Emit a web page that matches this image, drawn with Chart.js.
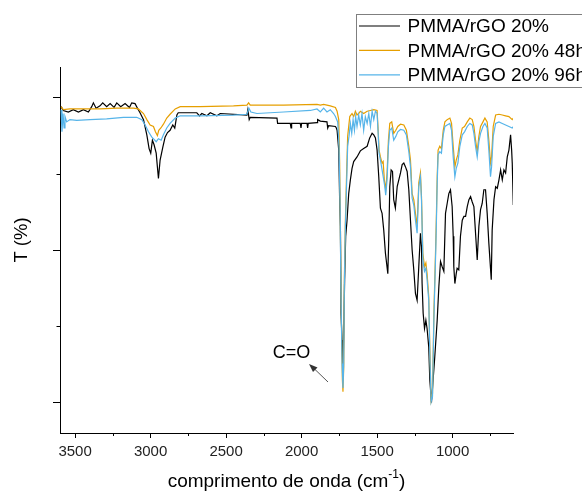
<!DOCTYPE html>
<html>
<head>
<meta charset="utf-8">
<script src="https://cdn.jsdelivr.net/npm/chart.js@4/dist/chart.umd.min.js"></script>
<style>
  body { margin: 0; background: #fff; }
  #caixa { width: 582px; height: 493px; }
</style>
</head>
<body>
<div id="caixa"><canvas id="grafica"></canvas></div>
<script>
// numero de onda (cm-1) e transmitancia
const wnPuro = [3593,3578,3545,3512,3478,3445,3412,3390,3379,3361,3335,3317,3291,3268,3242,3224,3198,3169,3140,3125,3103,3087,3070,3047,3025,3010,2999,2988,2977,2963,2955,2948,2937,2919,2904,2888,2871,2853,2840,2826,2817,2694,2676,2661,2627,2605,2561,2539,2362,2356,2347,2340,2163,2159,2075,2070,2066,2009,2004,2000,1964,1960,1956,1898,1894,1876,1832,1827,1821,1776,1770,1765,1754,1748,1743,1739,1732,1726,1721,1715,1708,1699,1688,1677,1666,1655,1633,1611,1589,1566,1549,1533,1522,1511,1500,1489,1478,1467,1456,1445,1429,1423,1416,1407,1398,1390,1379,1367,1345,1334,1323,1312,1301,1290,1279,1268,1257,1246,1235,1224,1213,1206,1202,1195,1186,1177,1169,1158,1151,1140,1129,1118,1102,1091,1080,1069,1058,1047,1036,1025,1014,1003,996,992,985,976,970,959,948,936,925,914,903,892,881,870,859,848,837,826,815,804,793,782,771,760,744,738,726,715,704,693,682,671,660,649,638,627,616,609,605,598];
const tPuro = [58.8,58.3,58.1,58.4,58.1,58.4,58.1,58.8,59.3,58.6,58.9,59.3,58.8,59.2,58.7,59.3,58.8,59.2,58.7,59.3,59.2,58.6,58.0,57.1,55.1,53.3,52.7,54.4,53.8,52.7,50.9,49.4,51.8,53.5,54.8,55.4,55.7,56.4,56.0,57.7,58.0,58.0,57.6,57.9,57.6,58.0,57.6,57.9,57.7,58.4,57.1,57.4,57.3,56.6,56.6,56.0,56.6,56.6,56.0,56.6,56.6,56.0,56.6,56.7,57.1,56.9,56.8,56.0,56.3,56.2,56.0,55.7,53.1,46.6,43.1,31.7,28.2,23.5,29.1,36.1,41.8,43.9,47.4,49.2,50.7,51.6,52.2,53.0,53.3,53.6,54.7,55.3,55.1,54.7,53.1,49.6,45.5,44.8,42.6,39.6,36.9,41.3,48.3,50.5,50.3,46.6,45.5,48.3,50.1,51.2,51.4,50.9,50.3,47.9,43.9,40.0,37.4,34.3,33.4,37.8,42.2,40.4,35.6,31.7,29.7,30.8,29.7,27.3,23.0,20.0,23.0,26.0,30.8,35.2,38.5,37.8,37.2,44.8,46.1,47.4,47.9,45.7,41.8,37.8,35.6,36.9,37.6,37.4,41.8,43.9,44.4,44.4,45.7,46.6,47.0,46.3,45.7,42.2,38.7,43.1,45.3,46.1,47.9,47.9,44.8,40.9,36.1,42.6,46.6,48.3,48.1,49.2,50.5,49.2,50.5,50.1,52.2,53.1,55.1,53.1,51.4,45.9];

const wn48h = [3593,3578,3534,3445,3335,3224,3114,3081,3047,3025,3003,2981,2968,2955,2946,2932,2915,2893,2871,2837,2804,2672,2451,2362,2351,2340,2119,1898,1876,1854,1810,1776,1765,1754,1748,1743,1737,1730,1726,1721,1717,1710,1703,1695,1681,1666,1655,1644,1633,1622,1611,1589,1566,1544,1522,1500,1493,1487,1478,1467,1460,1452,1443,1434,1425,1416,1403,1390,1376,1363,1345,1323,1306,1290,1279,1268,1257,1246,1235,1224,1213,1206,1197,1186,1177,1169,1158,1151,1142,1133,1124,1118,1111,1107,1102,1096,1085,1074,1062,1051,1036,1018,1007,996,985,976,965,952,936,921,903,886,870,859,848,837,826,815,799,786,771,760,749,742,731,715,693,671,649,627,605,598];
const t48h = [58.8,58.4,58.5,58.5,58.5,58.6,58.6,58.5,57.9,57.1,56.4,56.2,55.5,55.0,55.7,56.0,56.5,57.3,57.8,58.5,58.8,58.8,58.9,59.0,59.3,59.0,59.0,59.1,59.0,59.1,58.9,58.7,58.2,57.1,51.4,42.6,31.7,23.0,21.4,24.7,36.1,43.9,49.2,54.9,57.5,57.9,57.5,58.2,57.7,57.9,58.2,57.9,58.2,58.3,58.4,58.3,55.7,53.1,52.2,51.4,51.6,49.2,47.9,50.1,54.4,56.6,56.8,55.3,55.7,56.2,56.5,56.4,55.7,53.6,51.8,47.4,46.6,44.8,43.1,48.8,50.1,47.0,39.6,37.8,38.3,36.9,33.9,27.3,20.3,21.2,31.7,36.1,41.3,44.8,49.6,53.1,53.6,53.3,55.7,56.8,57.1,57.3,56.6,53.6,50.9,51.8,52.5,54.4,56.0,56.2,56.8,57.3,57.1,56.2,54.4,52.9,54.9,56.2,56.8,57.3,56.8,54.4,51.4,52.2,56.2,57.7,57.8,57.7,57.6,57.5,57.1,57.3];

const wn96h = [3593,3587,3580,3573,3567,3556,3534,3489,3401,3291,3180,3092,3058,3036,3014,2992,2977,2963,2948,2930,2915,2893,2871,2837,2804,2672,2451,2362,2349,2336,2296,2119,1942,1898,1876,1854,1832,1810,1788,1776,1761,1752,1745,1739,1732,1726,1721,1717,1710,1703,1695,1686,1677,1668,1659,1650,1642,1633,1622,1611,1600,1589,1578,1566,1555,1544,1533,1522,1511,1500,1493,1487,1478,1467,1456,1449,1443,1434,1425,1416,1403,1390,1376,1363,1345,1323,1306,1290,1279,1268,1257,1246,1235,1224,1213,1206,1197,1186,1177,1169,1158,1151,1142,1133,1124,1118,1111,1107,1102,1096,1085,1074,1062,1051,1036,1018,1007,996,985,976,965,952,936,921,903,886,870,859,848,837,826,815,799,786,771,760,749,742,731,715,693,671,649,627,605,598];
const t96h = [58.4,55.5,57.9,56.0,57.5,56.8,57.1,57.0,57.1,57.2,57.4,57.4,57.1,56.4,55.5,54.8,54.5,54.2,54.6,54.4,55.1,56.0,56.6,57.3,57.6,57.6,57.7,57.8,58.6,58.1,57.9,58.1,58.3,58.5,58.1,58.6,58.1,58.4,57.9,57.5,56.8,53.6,45.7,33.9,25.1,21.9,25.1,35.2,43.1,47.9,53.6,54.9,56.6,55.3,57.1,55.7,57.5,56.2,57.7,56.4,57.9,55.7,57.5,56.6,57.9,56.2,58.2,57.1,58.2,57.9,55.3,52.7,51.8,50.5,49.2,48.3,47.2,49.2,53.6,55.7,56.0,54.4,54.9,55.5,55.8,55.7,55.1,52.9,50.9,46.8,45.9,43.9,42.2,48.3,49.6,46.6,38.7,37.2,37.6,36.1,33.4,26.5,20.1,20.8,30.8,35.2,40.4,43.9,48.8,52.5,52.9,52.7,55.1,56.2,56.4,56.6,55.7,52.2,49.6,50.7,51.4,53.6,55.1,55.5,56.2,56.6,56.4,55.3,53.6,52.2,54.2,55.3,56.2,56.6,56.0,53.1,49.6,50.9,54.9,56.6,56.8,56.6,56.4,56.2,56.0,56.2];

const nomes = ['PMMA/rGO 20%', 'PMMA/rGO 20% 48h', 'PMMA/rGO 20% 96h'];
const cores = ['#000000', '#E69F00', '#56B4E9'];

const ticksX = [3500, 3000, 2500, 2000, 1500, 1000];
const ticksXmenor = [3250, 2750, 2250, 1750, 1250, 750];
const ticksY = [20, 40, 60];
const ticksYmenor = [30, 50];

const fonte = '"Liberation Sans", Arial, sans-serif';

function juntar(wn, t){
    return wn.map((v, i) => ({ x: v, y: t[i] }));
}

// ticks menores, titulos, legenda e anotacao C=O
const extras = {
    id: 'extras',
    afterDraw(chart){
        const ctx = chart.ctx;
        const sx = chart.scales.x;
        const sy = chart.scales.y;
        const area = chart.chartArea;

        ctx.save();
        ctx.strokeStyle = '#000';
        ctx.lineWidth = 1;
        ctx.beginPath();
        ticksXmenor.forEach(v => {
            const px = Math.round(sx.getPixelForValue(v)) + 0.5;
            ctx.moveTo(px, area.bottom);
            ctx.lineTo(px, area.bottom + 3);
        });
        ticksYmenor.forEach(v => {
            const py = Math.round(sy.getPixelForValue(v)) + 0.5;
            ctx.moveTo(area.left, py);
            ctx.lineTo(area.left - 3.5, py);
        });
        ctx.stroke();

        ctx.fillStyle = '#000';
        ctx.textBaseline = 'middle';

        // titulo y
        ctx.save();
        ctx.font = '18.5px ' + fonte;
        ctx.textAlign = 'center';
        ctx.translate(22, 240);
        ctx.rotate(-Math.PI / 2);
        ctx.fillText('T (%)', 0, 0);
        ctx.restore();

        // titulo x com expoente
        const base = 'comprimento de onda (cm';
        ctx.textAlign = 'left';
        ctx.font = '19px ' + fonte;
        const w1 = ctx.measureText(base).width;
        const w3 = ctx.measureText(')').width;
        ctx.font = '12px ' + fonte;
        const w2 = ctx.measureText('-1').width;
        let x0 = (area.left + area.right) / 2 - (w1 + w2 + w3) / 2;
        ctx.font = '19px ' + fonte;
        ctx.fillText(base, x0, 482);
        ctx.font = '12px ' + fonte;
        ctx.fillText('-1', x0 + w1, 475);
        ctx.font = '19px ' + fonte;
        ctx.fillText(')', x0 + w1 + w2, 482);

        // legenda
        ctx.strokeStyle = '#7f7f7f';
        ctx.strokeRect(356.5, 14.5, 240, 73);
        ctx.font = '19px ' + fonte;
        chart.data.datasets.forEach((ds, i) => {
            const yy = 26 + i * 24.4;
            ctx.strokeStyle = ds.borderColor;
            ctx.lineWidth = 1.2;
            ctx.beginPath();
            ctx.moveTo(359, yy);
            ctx.lineTo(400, yy);
            ctx.stroke();
            ctx.fillStyle = '#000';
            ctx.fillText(ds.label, 407.5, yy + 1);
        });

        // anotacao
        ctx.font = '18px ' + fonte;
        ctx.textAlign = 'center';
        ctx.fillText('C=O', 291.5, 353);
        ctx.strokeStyle = '#555';
        ctx.fillStyle = '#333';
        ctx.lineWidth = 1;
        ctx.beginPath();
        ctx.moveTo(328, 382);
        ctx.lineTo(314, 368.5);
        ctx.stroke();
        ctx.beginPath();
        ctx.moveTo(309, 364);
        ctx.lineTo(317.5, 367.5);
        ctx.lineTo(313, 372);
        ctx.closePath();
        ctx.fill();

        ctx.restore();
    }
};

new Chart(document.getElementById('grafica'), {
    type: 'line',
    data: {
        datasets: [
            { label: nomes[0], data: juntar(wnPuro, tPuro), borderColor: cores[0], order: 2 },
            { label: nomes[1], data: juntar(wn48h, t48h), borderColor: cores[1], order: 1 },
            { label: nomes[2], data: juntar(wn96h, t96h), borderColor: cores[2], order: 0 }
        ]
    },
    options: {
        responsive: true,
        maintainAspectRatio: false,
        animation: false,
        layout: { padding: { top: 67, right: 69, left: 0, bottom: 0 } },
        elements: {
            point: { radius: 0 },
            line: { borderWidth: 1.2, tension: 0 }
        },
        plugins: {
            legend: { display: false },
            tooltip: { enabled: false }
        },
        scales: {
            x: {
                type: 'linear',
                reverse: true,
                min: 600,
                max: 3600,
                afterBuildTicks: s => { s.ticks = ticksX.map(v => ({ value: v })); },
                afterFit: s => { s.height = 60; },
                border: { display: true, color: '#000', width: 1 },
                grid: { display: true, drawOnChartArea: false, tickLength: 5, color: '#000' },
                ticks: { color: '#222', padding: 5, font: { family: fonte, size: 15 }, maxRotation: 0, callback: v => String(v) }
            },
            y: {
                min: 16,
                max: 64,
                afterBuildTicks: s => { s.ticks = ticksY.map(v => ({ value: v })); },
                afterFit: s => { s.width = 60; },
                border: { display: true, color: '#000', width: 1 },
                grid: { display: true, drawOnChartArea: false, tickLength: 7, color: '#000' },
                ticks: { display: false }
            }
        }
    },
    plugins: [extras]
});
</script>
</body>
</html>
